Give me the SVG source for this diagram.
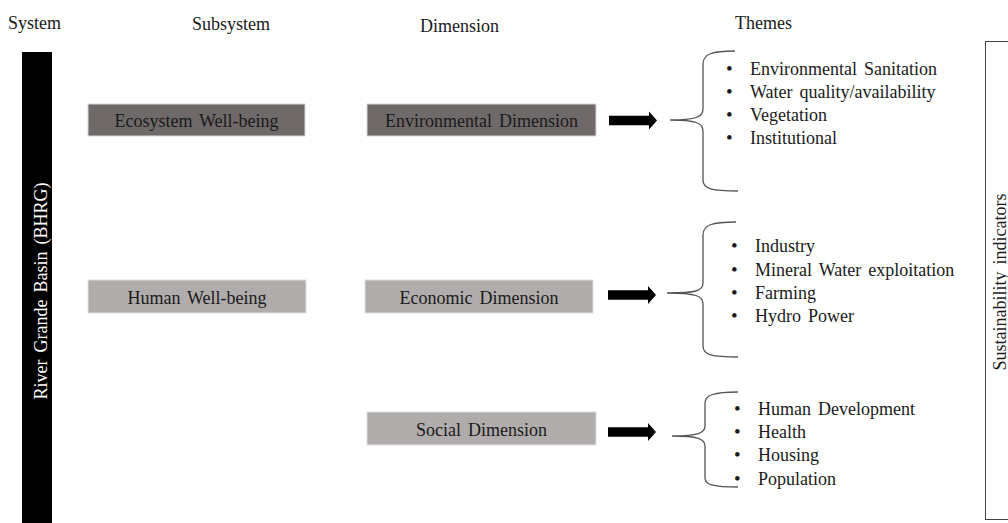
<svg xmlns="http://www.w3.org/2000/svg" width="1008" height="523" viewBox="0 0 1008 523">
<style>
text{font-family:"Liberation Serif","Times New Roman",serif;font-size:18px;fill:#1a1a1a;word-spacing:2.5px}
.dark{fill:#6f6969;stroke:#d9d9d9;stroke-width:1}
.light{fill:#b0acab;stroke:#e0e0e0;stroke-width:1}
.box text{text-anchor:middle}
.brace{fill:none;stroke:#555;stroke-width:1.3}
.arrow{fill:#000}
.b{word-spacing:0;font-size:19px}
</style>
<defs>
<path id="arr" d="M0,-4.8 L40,-4.8 L40,-9 L48,0 L40,9 L40,4.8 L0,4.8 Z"/>
</defs>
<g id="headers">
<text x="8" y="29">System</text>
<text x="192" y="30">Subsystem</text>
<text x="420" y="32">Dimension</text>
<text x="735" y="29">Themes</text>
</g>
<g id="system">
<rect x="22" y="52" width="30" height="475" fill="#000"/>
<text transform="translate(47,291) rotate(-90)" text-anchor="middle" style="fill:#fff">River Grande Basin (BHRG)</text>
</g>
<g id="ecosystem-wellbeing" class="box">
<rect class="dark" x="88" y="104" width="217" height="32"/>
<text x="196.5" y="127">Ecosystem Well-being</text>
</g>
<g id="human-wellbeing" class="box">
<rect class="light" x="88" y="280" width="218" height="33"/>
<text x="197" y="304">Human Well-being</text>
</g>
<g id="environmental-dimension" class="box">
<rect class="dark" x="367" y="104" width="229" height="32"/>
<text x="481.5" y="127">Environmental Dimension</text>
</g>
<g id="economic-dimension" class="box">
<rect class="light" x="365" y="280" width="228" height="33"/>
<text x="479" y="304">Economic Dimension</text>
</g>
<g id="social-dimension" class="box">
<rect class="light" x="367" y="412" width="229" height="33"/>
<text x="481.5" y="436">Social Dimension</text>
</g>
<g id="connectors">
<use href="#arr" class="arrow" transform="translate(609,120.5)"/>
<use href="#arr" class="arrow" transform="translate(608,295)"/>
<use href="#arr" class="arrow" transform="translate(608,432)"/>
</g>
<g id="environmental-themes">
<path class="brace" d="M735,51 C712,51 703,54 703,64 L703,109 C703,117 696,120 670,120 C696,120 703,123 703,131 L703,180 C703,189 712,191 738,191"/>
<text class="b" x="726" y="75">•</text><text x="750" y="75">Environmental Sanitation</text>
<text class="b" x="726" y="98">•</text><text x="750" y="98">Water quality/availability</text>
<text class="b" x="726" y="121">•</text><text x="750" y="121">Vegetation</text>
<text class="b" x="726" y="144">•</text><text x="750" y="144">Institutional</text>
</g>
<g id="economic-themes">
<path class="brace" d="M736,222 C712,222 703,225 703,235 L703,283 C703,291 696,293 667,293 C696,293 703,296 703,304 L703,346 C703,355 712,357 738,357"/>
<text class="b" x="731" y="252">•</text><text x="755" y="252">Industry</text>
<text class="b" x="731" y="276">•</text><text x="755" y="276">Mineral Water exploitation</text>
<text class="b" x="731" y="299">•</text><text x="755" y="299">Farming</text>
<text class="b" x="731" y="322">•</text><text x="755" y="322">Hydro Power</text>
</g>
<g id="social-themes">
<path class="brace" d="M738,392 C714,392 705,395 705,403 L705,426 C705,433 698,436 672,436 C698,436 705,439 705,446 L705,478 C705,485 714,487 738,487"/>
<text class="b" x="734" y="415">•</text><text x="758" y="415">Human Development</text>
<text class="b" x="734" y="438">•</text><text x="758" y="438">Health</text>
<text class="b" x="734" y="461">•</text><text x="758" y="461">Housing</text>
<text class="b" x="734" y="485">•</text><text x="758" y="485">Population</text>
</g>
<g id="sustainability-indicators">
<rect x="985.5" y="41.5" width="40" height="478" fill="none" stroke="#444" stroke-width="1"/>
<text transform="translate(1006,282) rotate(-90)" text-anchor="middle">Sustainability indicators</text>
</g>
</svg>
